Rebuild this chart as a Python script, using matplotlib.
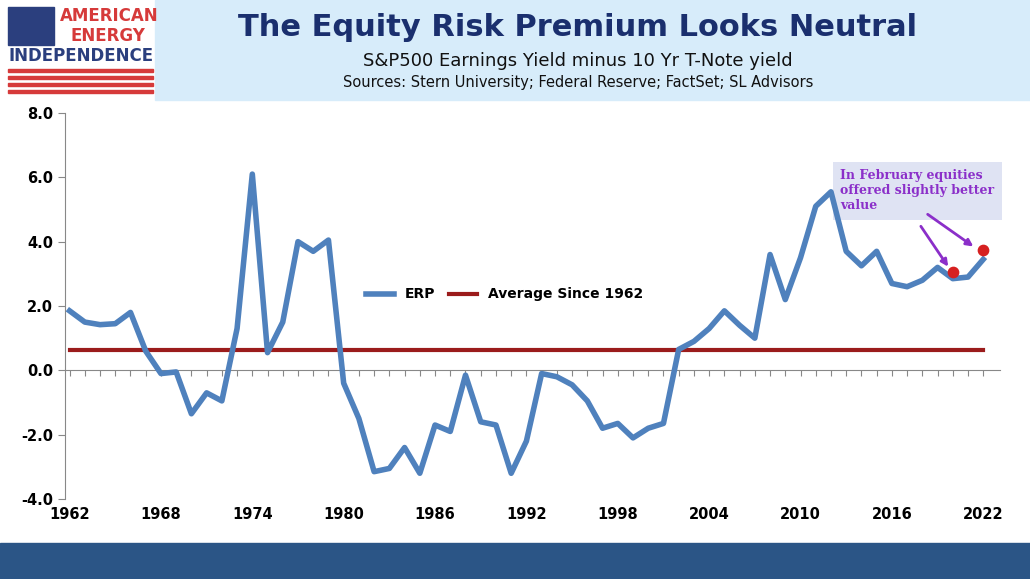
import numpy as np
import matplotlib.pyplot as plt
from matplotlib.patches import Rectangle

years = list(range(1962, 2023))
erp = [1.85, 1.5, 1.42, 1.45, 1.8, 0.6, -0.1, -0.05, -1.35, -0.7,
       -0.95, 1.3, 6.1, 0.55, 1.5, 4.0, 3.7, 4.05, -0.4, -1.5,
       -3.15, -3.05, -2.4, -3.2, -1.7, -1.9, -0.15, -1.6, -1.7, -3.2,
       -2.2, -0.1, -0.2, -0.45, -0.95, -1.8, -1.65, -2.1, -1.8, -1.65,
       0.65, 0.9, 1.3, 1.85, 1.4, 1.0, 3.6, 2.2, 3.5, 5.1,
       5.55, 3.7, 3.25, 3.7, 2.7, 2.6, 2.8, 3.2, 2.85, 2.9, 3.45]
avg = 0.62
feb_x = [2020, 2022]
feb_y = [3.05, 3.75]
xticks = [1962, 1968, 1974, 1980, 1986, 1992, 1998, 2004, 2010, 2016, 2022]
yticks = [-4, -2, 0, 2, 4, 6, 8]

W, H = 1030, 579
fig = plt.figure(figsize=(W / 100, H / 100), dpi=100)
fig.patch.set_facecolor("white")

# header and footer bands
fig.add_artist(Rectangle((155 / W, 1 - 100 / H), 875 / W, 100 / H, transform=fig.transFigure,
                         color="#d7ecfa", zorder=0))
fig.add_artist(Rectangle((0, 0), 1, 36 / H, transform=fig.transFigure, color="#2b5586", zorder=0))

# logo
fig.add_artist(Rectangle((8 / W, 1 - 45 / H), 46 / W, 38 / H, transform=fig.transFigure, color="#2b3f7e"))
for i in range(4):
    fig.add_artist(Rectangle((8 / W, 1 - (72 + i * 7) / H), 145 / W, 3.5 / H,
                             transform=fig.transFigure, color="#d63a3a"))
fig.text(60 / W, 1 - 16 / H, "AMERICAN", color="#d63a3a", fontsize=12, fontweight="bold", va="center")
fig.text(70 / W, 1 - 36 / H, "ENERGY", color="#d63a3a", fontsize=12, fontweight="bold", va="center")
fig.text(8 / W, 1 - 56 / H, "INDEPENDENCE", color="#2b3f7e", fontsize=12, fontweight="bold", va="center")

fig.text(578 / W, 1 - 28 / H, "The Equity Risk Premium Looks Neutral", ha="center", va="center",
         fontsize=22, fontweight="bold", color="#1a2f6e")
fig.text(578 / W, 1 - 61 / H, "S&P500 Earnings Yield minus 10 Yr T-Note yield", ha="center",
         va="center", fontsize=13, color="#111111")
fig.text(578 / W, 1 - 82 / H, "Sources: Stern University; Federal Reserve; FactSet; SL Advisors",
         ha="center", va="center", fontsize=10.5, color="#111111")

ax = fig.add_axes([65 / W, 1 - 499 / H, 935 / W, 386 / H])
ax.plot(years, erp, color="#4f81bd", lw=4, label="ERP", zorder=3)
ax.plot([years[0], years[-1]], [avg, avg], color="#9b1c1c", lw=3, label="Average Since 1962", zorder=2)
ax.scatter(feb_x, feb_y, s=55, color="#d62020", zorder=4)

ax.set_xlim(1962 - 0.3, 2022 + 1.1)
ax.set_ylim(-4, 8)
ax.set_xticks(years)
ax.set_xticklabels([])
ax.set_yticks(yticks)
ax.set_yticklabels([f"{v:.1f}" for v in yticks])
ax.tick_params(labelsize=10.5, length=5, color="#888888")
ax.tick_params(axis="x", length=4, direction="out")
for lab in ax.get_yticklabels():
    lab.set_fontweight("bold")
for s in ["top", "right"]:
    ax.spines[s].set_visible(False)
ax.spines["left"].set_color("#888888")
ax.spines["bottom"].set_position(("data", 0))
ax.spines["bottom"].set_color("#888888")

sec = ax.secondary_xaxis(-0.0)
sec.set_xticks(xticks)
sec.set_xticklabels([str(y) for y in xticks], fontweight="bold", fontsize=10.5)
sec.tick_params(length=0, pad=6)
sec.spines["bottom"].set_visible(False)

ax.legend(loc="center", bbox_to_anchor=(0.47, 0.53), ncol=2, frameon=False,
          prop={"weight": "bold", "size": 10}, handlelength=2, columnspacing=1)

ax.text(2012.6, 6.25, "In February equities\noffered slightly better\nvalue", fontsize=9,
        color="#8b2fc9", family="DejaVu Serif", fontweight="bold", va="top", zorder=1,
        bbox=dict(boxstyle="square,pad=0.6", fc="#dfe3f3", ec="none"))
ax.annotate("", xy=(2019.8, 3.15), xytext=(2017.8, 4.55),
            arrowprops=dict(arrowstyle="-|>", color="#8b2fc9", lw=2))
ax.annotate("", xy=(2021.5, 3.8), xytext=(2018.2, 4.9),
            arrowprops=dict(arrowstyle="-|>", color="#8b2fc9", lw=2))

fig.savefig("out.png", dpi=100)
